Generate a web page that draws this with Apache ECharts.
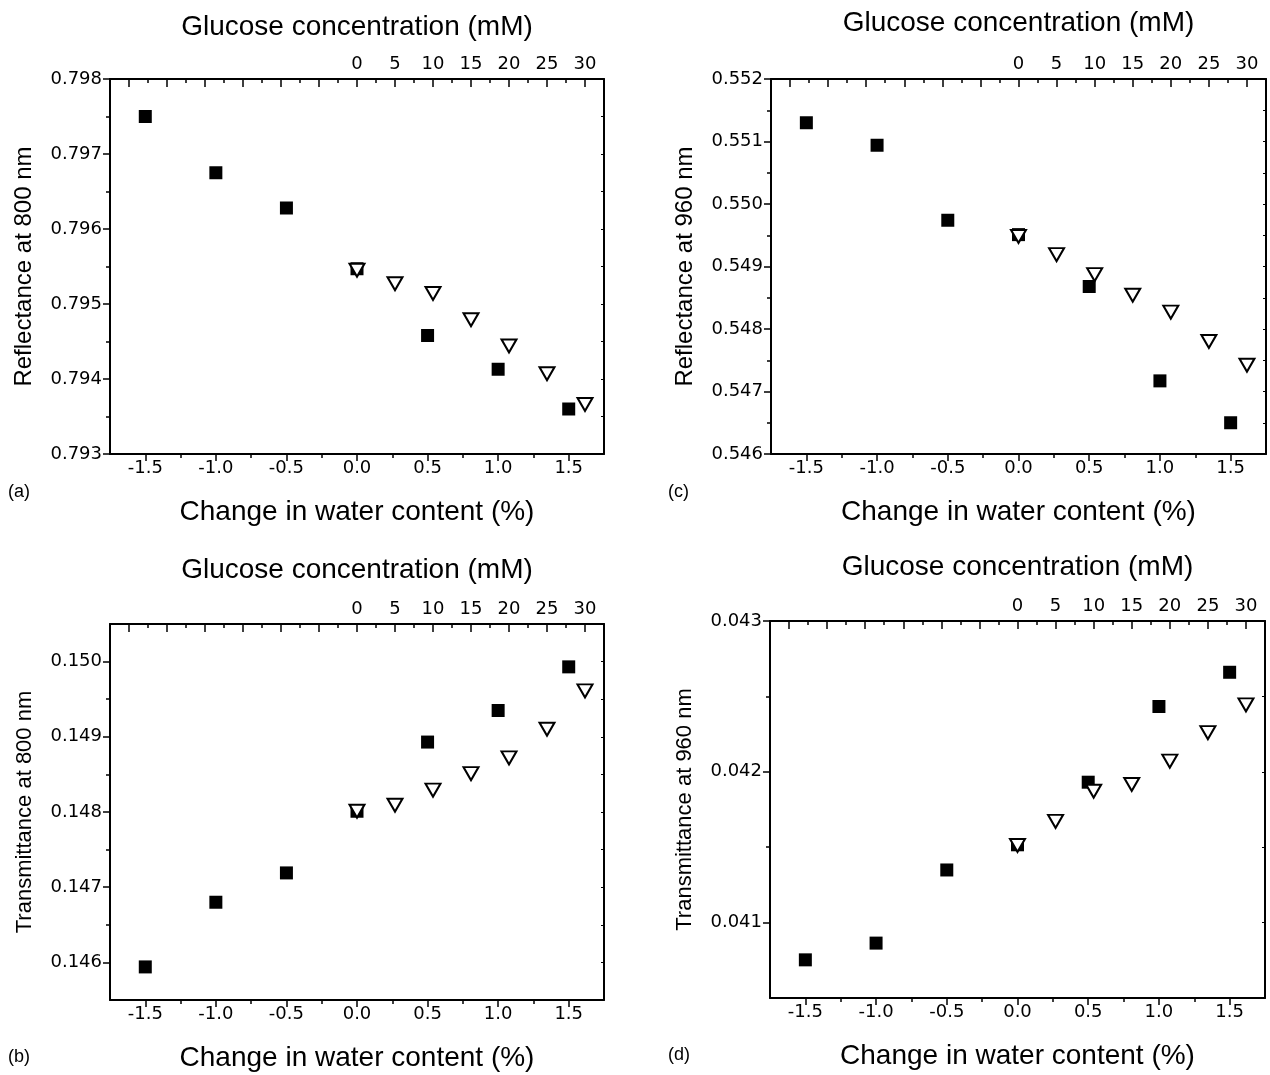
<!DOCTYPE html>
<html>
<head>
<meta charset="utf-8">
<script src="https://cdn.jsdelivr.net/npm/echarts@6/dist/echarts.min.js"></script>
<style>
html,body{margin:0;padding:0;background:#fff;}
#chart{width:1270px;height:1075px;}
</style>
</head>
<body>
<div id="chart"></div>
<script>
// ---- data ----
const waterChange = [-1.5, -1.0, -0.5, 0.0, 0.5, 1.0, 1.5];
const glucoseMM = [0, 5, 10, 15, 20, 25, 30];

const refl800Water   = [0.79750, 0.79675, 0.79628, 0.79547, 0.79458, 0.79413, 0.79360];
const refl800Glucose = [0.79545, 0.79527, 0.79514, 0.79479, 0.79444, 0.79407, 0.79366];

const refl960Water   = [0.55130, 0.55094, 0.54974, 0.54951, 0.54868, 0.54717, 0.54650];
const refl960Glucose = [0.54948, 0.54919, 0.54887, 0.54854, 0.54827, 0.54780, 0.54742];

const trans800Water   = [0.14594, 0.14680, 0.14719, 0.14801, 0.14893, 0.14935, 0.14993];
const trans800Glucose = [0.14801, 0.14809, 0.14829, 0.14851, 0.14872, 0.14910, 0.14961];

const trans960Water   = [0.040753, 0.040864, 0.041349, 0.041516, 0.041931, 0.042433, 0.042660];
const trans960Glucose = [0.041511, 0.041671, 0.041871, 0.041916, 0.042071, 0.042260, 0.042444];

// ---- tick values ----
const waterTicks = [-1.5, -1.0, -0.5, 0.0, 0.5, 1.0, 1.5];
const waterMinorTicks = [-1.25, -0.75, -0.25, 0.25, 0.75, 1.25];
const glucoseLabels = [0, 5, 10, 15, 20, 25, 30];
const glucoseTicks = [-30, -25, -20, -15, -10, -5, 0, 5, 10, 15, 20, 25, 30];
const glucoseMinorTicks = [-27.5, -22.5, -17.5, -12.5, -7.5, -2.5, 2.5, 7.5, 12.5, 17.5, 22.5, 27.5];

const refl800Ticks = [0.793, 0.794, 0.795, 0.796, 0.797, 0.798];
const refl800Minor = [0.7935, 0.7945, 0.7955, 0.7965, 0.7975];
const refl960Ticks = [0.546, 0.547, 0.548, 0.549, 0.550, 0.551, 0.552];
const refl960Minor = [0.5465, 0.5475, 0.5485, 0.5495, 0.5505, 0.5515];
const trans800Ticks = [0.146, 0.147, 0.148, 0.149, 0.150];
const trans800Minor = [0.1465, 0.1475, 0.1485, 0.1495];
const trans960Ticks = [0.041, 0.042, 0.043];
const trans960Minor = [0.0415, 0.0425];

const panelLabels = ['(a)', '(c)', '(b)', '(d)'];
const titleGlucose = 'Glucose concentration (mM)';
const titleWater = 'Change in water content (%)';

// ---- panel definitions (ranges + layout) ----
const panels = [
  { grid: {left: 110, top: 79, width: 494, height: 375}, yMin: 0.793, yMax: 0.798,
    yName: 'Reflectance at 800 nm', yNameSize: 24, ticks: refl800Ticks, minor: refl800Minor,
    water: refl800Water, glucose: refl800Glucose, label: panelLabels[0], labelPos: [8, 483], topGap: 38 },
  { grid: {left: 771, top: 79, width: 495, height: 375}, yMin: 0.546, yMax: 0.552,
    yName: 'Reflectance at 960 nm', yNameSize: 24, ticks: refl960Ticks, minor: refl960Minor,
    water: refl960Water, glucose: refl960Glucose, label: panelLabels[1], labelPos: [668, 483], topGap: 42 },
  { grid: {left: 110, top: 624, width: 494, height: 376}, yMin: 0.1455, yMax: 0.1505,
    yName: 'Transmittance at 800 nm', yNameSize: 22, ticks: trans800Ticks, minor: trans800Minor,
    water: trans800Water, glucose: trans800Glucose, label: panelLabels[2], labelPos: [8, 1048], topGap: 40 },
  { grid: {left: 770, top: 621, width: 495, height: 377}, yMin: 0.0405, yMax: 0.043,
    yName: 'Transmittance at 960 nm', yNameSize: 22, ticks: trans960Ticks, minor: trans960Minor,
    water: trans960Water, glucose: trans960Glucose, label: panelLabels[3], labelPos: [668, 1046], topGap: 40 }
];

const BLACK = '#000';
const tickFont = {fontSize: 18, fontFamily: 'DejaVu Sans', color: BLACK};
const titleFont = {fontSize: 28, fontFamily: 'Liberation Sans, Arial, sans-serif', color: BLACK};
const lineStyle = {color: BLACK, width: 2};

const grids = [], xAxes = [], yAxes = [], series = [], graphics = [];

panels.forEach((p, i) => {
  grids.push(Object.assign({containLabel: false}, p.grid));
  // bottom main
  xAxes.push({
    gridIndex: i, type: 'value', position: 'bottom', min: -1.75, max: 1.75,
    axisLine: {show: true, onZero: false, lineStyle: lineStyle},
    axisTick: {show: true, inside: false, length: 7, customValues: waterTicks, lineStyle: {color: BLACK, width: 1.5}},
    axisLabel: Object.assign({show: true, margin: 5, customValues: waterTicks, formatter: v => v.toFixed(1)}, tickFont),
    splitLine: {show: false},
    name: titleWater, nameLocation: 'middle', nameGap: 44, nameTextStyle: titleFont
  });
  // bottom minor
  xAxes.push({
    gridIndex: i, type: 'value', position: 'bottom', min: -1.75, max: 1.75,
    axisLine: {show: false, onZero: false},
    axisTick: {show: true, inside: false, length: 4, customValues: waterMinorTicks, lineStyle: {color: BLACK, width: 1.5}},
    axisLabel: {show: false}, splitLine: {show: false}
  });
  // top main (glucose)
  xAxes.push({
    gridIndex: i, type: 'value', position: 'top', min: -32.5, max: 32.5,
    axisLine: {show: true, onZero: false, lineStyle: lineStyle},
    axisTick: {show: true, inside: true, length: 8, customValues: glucoseTicks, lineStyle: {color: BLACK, width: 1.5}},
    axisLabel: Object.assign({show: true, margin: 6, customValues: glucoseLabels, formatter: v => String(v)}, tickFont),
    splitLine: {show: false},
    name: titleGlucose, nameLocation: 'middle', nameGap: p.topGap, nameTextStyle: titleFont
  });
  // top minor
  xAxes.push({
    gridIndex: i, type: 'value', position: 'top', min: -32.5, max: 32.5,
    axisLine: {show: false, onZero: false},
    axisTick: {show: true, inside: true, length: 4, customValues: glucoseMinorTicks, lineStyle: {color: BLACK, width: 1.5}},
    axisLabel: {show: false}, splitLine: {show: false}
  });
  // left main
  yAxes.push({
    gridIndex: i, type: 'value', position: 'left', min: p.yMin, max: p.yMax,
    axisLine: {show: true, onZero: false, lineStyle: lineStyle},
    axisTick: {show: true, inside: false, length: 7, customValues: p.ticks, lineStyle: {color: BLACK, width: 1.5}},
    axisLabel: Object.assign({show: true, margin: 8, customValues: p.ticks, formatter: v => v.toFixed(3)}, tickFont),
    splitLine: {show: false},
    name: p.yName, nameLocation: 'middle', nameGap: 74,
    nameTextStyle: Object.assign({}, titleFont, {fontSize: p.yNameSize})
  });
  // left minor
  yAxes.push({
    gridIndex: i, type: 'value', position: 'left', min: p.yMin, max: p.yMax,
    axisLine: {show: false, onZero: false},
    axisTick: {show: true, inside: false, length: 4, customValues: p.minor, lineStyle: {color: BLACK, width: 1.5}},
    axisLabel: {show: false}, splitLine: {show: false}
  });
  // right frame
  yAxes.push({
    gridIndex: i, type: 'value', position: 'right', min: p.yMin, max: p.yMax,
    axisLine: {show: true, onZero: false, lineStyle: lineStyle},
    axisTick: {show: true, inside: true, length: 3, customValues: p.ticks.concat(p.minor), lineStyle: {color: BLACK, width: 1}},
    axisLabel: {show: false}, splitLine: {show: false}
  });

  series.push({
    type: 'scatter', name: 'water', xAxisIndex: 4 * i, yAxisIndex: 3 * i,
    symbol: 'rect', symbolSize: 13, itemStyle: {color: BLACK, opacity: 1},
    data: waterChange.map((x, k) => [x, p.water[k]])
  });
  series.push({
    type: 'scatter', name: 'glucose', xAxisIndex: 4 * i + 2, yAxisIndex: 3 * i,
    symbol: 'path://M0,0L2,0L1,1.8Z', symbolSize: [15, 13],
    itemStyle: {color: '#fff', borderColor: BLACK, borderWidth: 2, opacity: 1},
    data: glucoseMM.map((x, k) => [x, p.glucose[k]])
  });
  graphics.push({
    type: 'text', left: p.labelPos[0], top: p.labelPos[1],
    style: {text: p.label, fontSize: 18, fontFamily: 'Liberation Sans, Arial, sans-serif', fill: BLACK}
  });
});

const chart = echarts.init(document.getElementById('chart'), null, {renderer: 'canvas'});
chart.setOption({
  backgroundColor: '#fff',
  animation: false,
  grid: grids,
  xAxis: xAxes,
  yAxis: yAxes,
  series: series,
  graphic: graphics
});
</script>
</body>
</html>
